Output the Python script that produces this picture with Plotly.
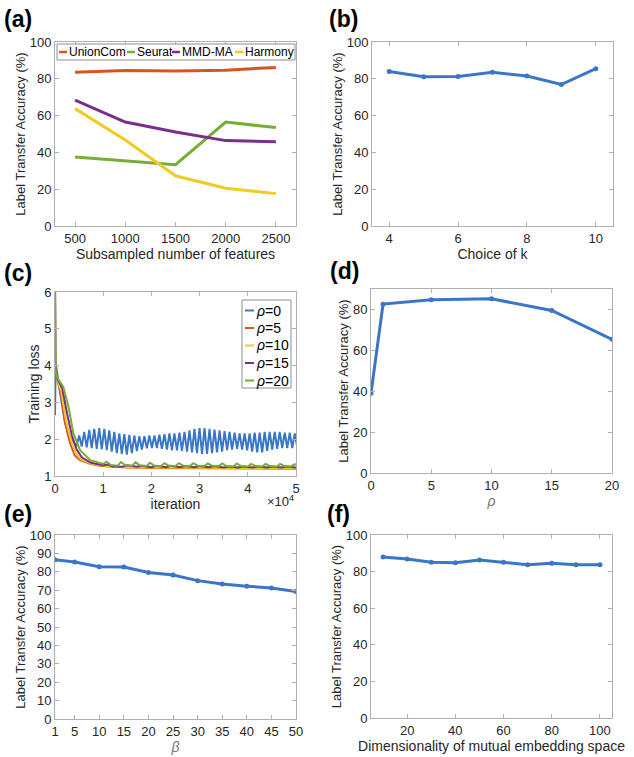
import plotly.graph_objects as go

W, H = 634, 757

# ---------------- data ----------------
# (a)
feat_n = [500, 1000, 1500, 2000, 2500]
a_unioncom = [83.5, 84.5, 84.2, 84.7, 86.2]
a_seurat = [37.5, 35.6, 33.3, 56.5, 53.5]
a_mmdma = [68.4, 56.5, 51.1, 46.4, 45.8]
a_harmony = [63.8, 46.7, 27.3, 20.5, 17.6]

# (b)
k_vals = [4, 5, 6, 7, 8, 9, 10]
b_acc = [84.0, 81.1, 81.3, 83.6, 81.5, 76.9, 85.5]

# (c) training loss
blue_head_x = [0, 0, 150, 1000, 2000, 3000, 4000, 4500]
blue_head_y = [2.65, 2.65, 4.07, 3.30, 2.50, 2.06, 1.89, 1.82]
blue_osc_pairs = [
    (2.10, 1.80), (2.20, 1.78), (2.25, 1.76), (2.28, 1.74), (2.30, 1.72),
    (2.28, 1.70), (2.24, 1.66), (2.20, 1.62), (2.16, 1.60), (2.14, 1.58), (2.12, 1.62),
    (2.10, 1.68), (2.08, 1.72), (2.08, 1.75), (2.10, 1.76), (2.10, 1.76), (2.12, 1.74),
    (2.14, 1.72), (2.16, 1.70), (2.16, 1.70), (2.18, 1.68), (2.20, 1.66), (2.24, 1.64),
    (2.28, 1.62), (2.30, 1.60), (2.30, 1.60), (2.28, 1.62), (2.26, 1.64),
    (2.24, 1.66), (2.22, 1.70), (2.20, 1.72), (2.18, 1.74), (2.16, 1.72), (2.16, 1.70),
    (2.16, 1.66), (2.18, 1.64), (2.18, 1.64), (2.20, 1.68), (2.20, 1.72),
    (2.20, 1.74), (2.20, 1.76), (2.18, 1.76), (2.18, 1.76), (2.16, 1.78),
]
osc_half_period = 520

red_x = [0, 100, 500, 1200, 2100, 3100, 4100, 5200, 7300, 9300, 12000, 15000, 20000, 30000, 40000, 50000]
red_y = [6.3, 3.75, 3.60, 3.25, 2.43, 1.90, 1.56, 1.43, 1.33, 1.28, 1.25, 1.23, 1.22, 1.21, 1.20, 1.20]

yellow_x = [0, 100, 500, 1300, 2300, 3300, 4300, 5400, 7500, 9500, 12000, 15000, 20000, 30000, 40000, 50000]
yellow_y = [6.3, 3.75, 3.62, 3.30, 2.50, 1.98, 1.62, 1.45, 1.34, 1.29, 1.26, 1.24, 1.23, 1.22, 1.21, 1.21]

purple_x = [0, 100, 500, 1500, 2500, 3500, 4500, 5600, 7500,
            10000, 11000, 12000,
            14000, 15000, 17000, 18000, 20000, 21000, 23000, 24000, 26000, 27000,
            29000, 30000, 32000, 33000, 35000, 36000, 38000, 39000, 41000, 42000,
            44000, 45000, 47000, 48000, 50000]
purple_y = [6.3, 3.75, 3.64, 3.38, 2.70, 2.10, 1.72, 1.50, 1.36,
            1.29, 1.31, 1.26,
            1.25, 1.29, 1.25, 1.28, 1.24, 1.28, 1.24, 1.28, 1.24, 1.27,
            1.24, 1.27, 1.24, 1.27, 1.23, 1.26, 1.23, 1.26, 1.23, 1.26,
            1.23, 1.26, 1.23, 1.26, 1.23]

green_x = [0, 100, 500, 1700, 2800, 3800, 5200, 7300,
           10000,
           10700, 11600, 13000, 13700, 14600, 16000, 16700, 17600, 19000,
           19700, 20600, 22000, 22700, 23600, 25000, 25700, 26600, 28000,
           28700, 29600, 31000, 31700, 32600, 34000, 34700, 35600, 37000,
           37700, 38600, 40000, 40700, 41600, 43000, 43700, 44600, 46000,
           46700, 47600, 49000,
           49700, 50000]
green_y = [6.3, 3.80, 3.66, 3.43, 2.88, 2.16, 1.70, 1.43,
           1.33,
           1.39, 1.30, 1.28, 1.38, 1.29, 1.28, 1.37, 1.29, 1.27,
           1.36, 1.28, 1.27, 1.35, 1.28, 1.27, 1.35, 1.28, 1.27,
           1.35, 1.28, 1.27, 1.34, 1.28, 1.27, 1.34, 1.27, 1.26,
           1.34, 1.27, 1.26, 1.33, 1.27, 1.26, 1.33, 1.27, 1.26,
           1.33, 1.27, 1.26,
           1.32, 1.30]

# (d)
rho_vals = [0, 1, 5, 10, 15, 20]
d_acc = [39.0, 82.6, 84.7, 85.2, 79.5, 65.4]

# (e)
beta_vals = [1, 5, 10, 15, 20, 25, 30, 35, 40, 45, 50]
e_acc = [86.6, 85.3, 82.8, 82.6, 79.6, 78.3, 75.2, 73.4, 72.2, 71.2, 69.3]

# (f)
dim_vals = [10, 20, 30, 40, 50, 60, 70, 80, 90, 100]
f_acc = [88.0, 86.9, 85.1, 84.9, 86.4, 85.1, 83.7, 84.6, 83.7, 83.8]

# ---------------- style ----------------
FONT = "Liberation Sans, Arial, Helvetica, sans-serif"
BLUE = "#3a76c8"
RED = "#d6561e"
YELLOW = "#f0cb22"
PURPLE = "#7b2d8e"
GREEN = "#78ad34"
AXC = "#b0b0b0"
TXT = "#262626"


def px_x(p):
    return p / W


def px_y(p):
    return 1 - p / H


# blue series assembled from head + read peaks/troughs
blue_x = list(blue_head_x)
blue_y = list(blue_head_y)
xpos = blue_head_x[-1]
for pk, tr in blue_osc_pairs:
    xpos += osc_half_period
    blue_x.append(xpos)
    blue_y.append(pk)
    xpos += osc_half_period
    blue_x.append(xpos)
    blue_y.append(tr)

fig = go.Figure()

# (a)
for name, vals, col in [("UnionCom", a_unioncom, RED), ("Seurat", a_seurat, GREEN),
                        ("MMD-MA", a_mmdma, PURPLE), ("Harmony", a_harmony, YELLOW)]:
    fig.add_trace(go.Scatter(x=feat_n, y=vals, mode="lines", name=name,
                             line=dict(color=col, width=3), xaxis="x", yaxis="y",
                             showlegend=False))
# (b)
fig.add_trace(go.Scatter(x=k_vals, y=b_acc, mode="lines+markers", name="k",
                         line=dict(color=BLUE, width=3), marker=dict(size=5, color=BLUE),
                         xaxis="x2", yaxis="y2", showlegend=False))
# (c)
for name, xs, ys, col in [("ρ=0", blue_x, blue_y, BLUE), ("ρ=5", red_x, red_y, RED),
                          ("ρ=10", yellow_x, yellow_y, YELLOW), ("ρ=15", purple_x, purple_y, PURPLE),
                          ("ρ=20", green_x, green_y, GREEN)]:
    fig.add_trace(go.Scatter(x=xs, y=ys, mode="lines", name=name,
                             line=dict(color=col, width=2), xaxis="x3", yaxis="y3",
                             showlegend=False, cliponaxis=True))
# (d)
fig.add_trace(go.Scatter(x=rho_vals, y=d_acc, mode="lines+markers", name="rho",
                         line=dict(color=BLUE, width=3), marker=dict(size=5, color=BLUE),
                         xaxis="x4", yaxis="y4", showlegend=False))
# (e)
fig.add_trace(go.Scatter(x=beta_vals, y=e_acc, mode="lines+markers", name="beta",
                         line=dict(color=BLUE, width=3), marker=dict(size=5, color=BLUE),
                         xaxis="x5", yaxis="y5", showlegend=False))
# (f)
fig.add_trace(go.Scatter(x=dim_vals, y=f_acc, mode="lines+markers", name="dim",
                         line=dict(color=BLUE, width=3), marker=dict(size=5, color=BLUE),
                         xaxis="x6", yaxis="y6", showlegend=False))


def ax(domain, rng, tickvals=None, ticktext=None, title=None, tsize=14, anchor=None,
       dtick=None, title_color=TXT, standoff=None):
    d = dict(domain=domain, range=rng, showline=True, linecolor=AXC, linewidth=1,
             mirror="ticks", ticks="inside", ticklen=4, tickcolor=AXC, showgrid=False,
             zeroline=False, tickfont=dict(size=13, color=TXT, family=FONT), anchor=anchor,
             fixedrange=True, automargin=False)
    if tickvals is not None:
        d["tickmode"] = "array"
        d["tickvals"] = tickvals
        if ticktext is not None:
            d["ticktext"] = ticktext
    if dtick is not None:
        d["tick0"] = 0
        d["dtick"] = dtick
    if title:
        t = dict(text=title, font=dict(size=tsize, color=title_color, family=FONT))
        if standoff is not None:
            t["standoff"] = standoff
        d["title"] = t
    return d


xa_l = [px_x(55), px_x(296)]
xa_r = [px_x(372), px_x(613)]
y_top = [px_y(226), px_y(42)]
y_mid_l = [px_y(476), px_y(292)]
y_mid_r = [px_y(473), px_y(289)]
y_bot = [px_y(719), px_y(535)]

YT = "Label Transfer Accuracy (%)"
XS = 1
YS = 1

fig.update_layout(
    width=W, height=H,
    margin=dict(l=0, r=0, t=0, b=0, pad=0, autoexpand=False),
    paper_bgcolor="white", plot_bgcolor="white",
    font=dict(family=FONT, color=TXT),
    showlegend=False,
    xaxis=ax(xa_l, [300, 2700], tickvals=[500, 1000, 1500, 2000, 2500],
             title="Subsampled number of features", anchor="y", standoff=XS),
    yaxis=ax(y_top, [0, 100], dtick=20, title=YT, tsize=13, anchor="x", standoff=YS),
    xaxis2=ax(xa_r, [3.5, 10.5], tickvals=[4, 6, 8, 10], title="Choice of k", anchor="y2",
              standoff=XS),
    yaxis2=ax(y_top, [0, 100], dtick=20, title=YT, tsize=13, anchor="x2", standoff=YS),
    xaxis3=ax(xa_l, [0, 50000], tickvals=[0, 10000, 20000, 30000, 40000, 50000],
              ticktext=["0", "1", "2", "3", "4", "5"], title="iteration", anchor="y3",
              standoff=XS),
    yaxis3=ax(y_mid_l, [1, 6], dtick=1, title="Training loss", tsize=14, anchor="x3",
              standoff=YS),
    xaxis4=ax([px_x(371), px_x(612)], [0, 20], tickvals=[0, 5, 10, 15, 20],
              title="<i>ρ</i>", title_color="#777777", anchor="y4", standoff=XS),
    yaxis4=ax(y_mid_r, [0, 90], tickvals=[0, 20, 40, 60, 80], title=YT, tsize=13, anchor="x4",
              standoff=YS),
    xaxis5=ax(xa_l, [1, 50], tickvals=[1, 5, 10, 15, 20, 25, 30, 35, 40, 45, 50],
              title="<i>β</i>", title_color="#777777", anchor="y5", standoff=XS),
    yaxis5=ax(y_bot, [0, 100], dtick=10, title=YT, tsize=13, anchor="x5", standoff=YS),
    xaxis6=ax([px_x(371), px_x(612)], [5, 105], tickvals=[20, 40, 60, 80, 100],
              title="Dimensionality of mutual embedding space", anchor="y6", standoff=XS),
    yaxis6=ax([px_y(718), px_y(535)], [0, 100], dtick=20, title=YT, tsize=13, anchor="x6",
              standoff=YS),
)

annotations = []
shapes = []

# panel labels
for lab, xp, yp in [("(a)", 2, 19), ("(b)", 327, 19), ("(c)", 2, 273),
                    ("(d)", 328, 271), ("(e)", 2, 514), ("(f)", 325, 514)]:
    annotations.append(dict(text="<b>" + lab + "</b>", x=px_x(xp), y=px_y(yp),
                            xref="paper", yref="paper", xanchor="left", yanchor="middle",
                            showarrow=False, font=dict(size=23, color="black", family=FONT)))

# x10^4 multiplier for (c)
annotations.append(dict(text="×10<sup>4</sup>", x=px_x(280), y=px_y(501), xref="paper",
                        yref="paper", xanchor="center", yanchor="middle", showarrow=False,
                        font=dict(size=13, color=TXT, family=FONT)))

# legend (a)
shapes.append(dict(type="rect", xref="paper", yref="paper", x0=px_x(57), x1=px_x(295),
                   y0=px_y(44), y1=px_y(60), line=dict(color="#8c8c8c", width=1),
                   fillcolor="white", layer="above"))
for name, col, lx in [("UnionCom", RED, 59), ("Seurat", GREEN, 127),
                      ("MMD-MA", PURPLE, 172), ("Harmony", YELLOW, 235)]:
    shapes.append(dict(type="line", xref="paper", yref="paper", x0=px_x(lx), x1=px_x(lx + 8),
                       y0=px_y(52), y1=px_y(52), line=dict(color=col, width=2.5), layer="above"))
    annotations.append(dict(text=name, x=px_x(lx + 9), y=px_y(52), xref="paper", yref="paper",
                            xanchor="left", yanchor="middle", showarrow=False, borderpad=0,
                            font=dict(size=12, color="black", family=FONT)))

# legend (c)
shapes.append(dict(type="rect", xref="paper", yref="paper", x0=px_x(242), x1=px_x(291),
                   y0=px_y(300), y1=px_y(388), line=dict(color="#8c8c8c", width=1),
                   fillcolor="white", layer="above"))
for name, col, ly in [("0", BLUE, 310.5), ("5", RED, 328), ("10", YELLOW, 345.5),
                      ("15", PURPLE, 363), ("20", GREEN, 380.5)]:
    shapes.append(dict(type="line", xref="paper", yref="paper", x0=px_x(245), x1=px_x(254),
                       y0=px_y(ly), y1=px_y(ly), line=dict(color=col, width=2), layer="above"))
    annotations.append(dict(text="<i>ρ</i>=" + name, x=px_x(255), y=px_y(ly), xref="paper",
                            yref="paper", xanchor="left", yanchor="middle", showarrow=False,
                            borderpad=0, font=dict(size=14, color="black", family=FONT)))

fig.update_layout(annotations=annotations, shapes=shapes)

fig.write_html("out.html", config={"displayModeBar": False},
               post_script="document.body.style.margin='0px';")
